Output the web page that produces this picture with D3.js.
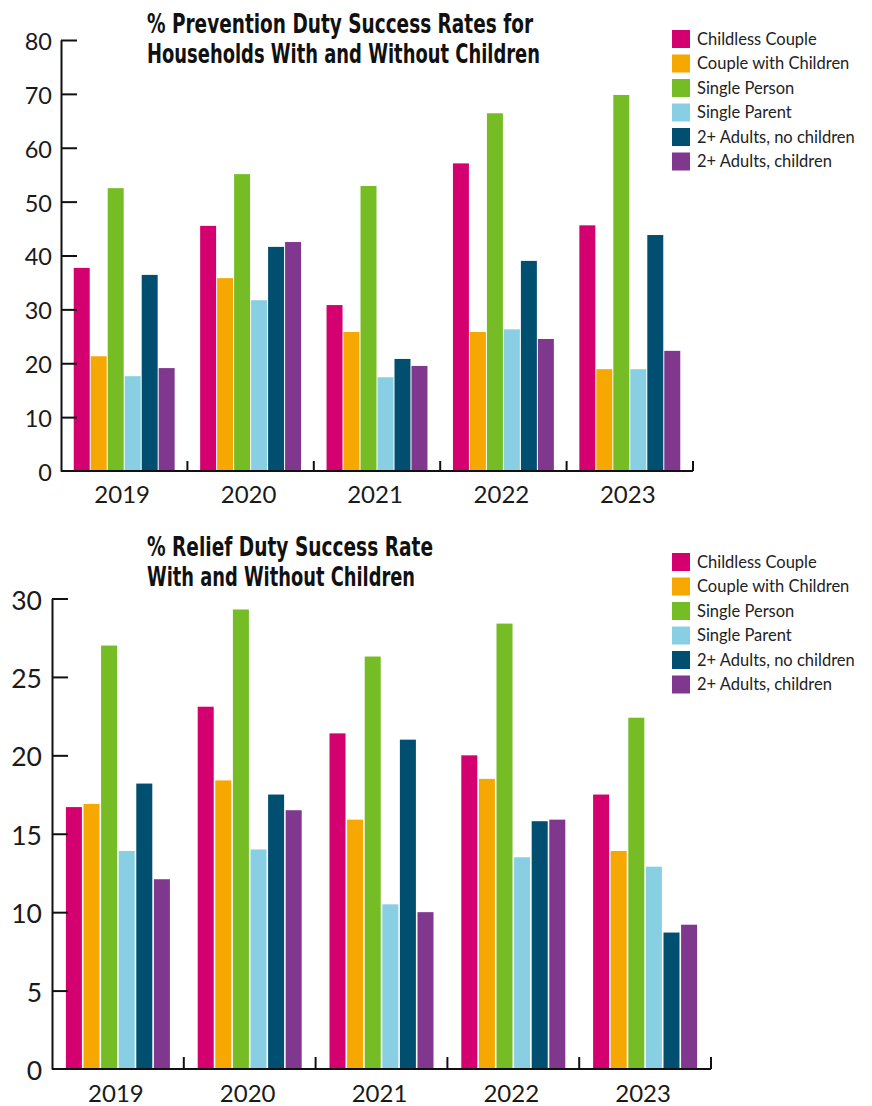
<!DOCTYPE html>
<html>
<head>
<meta charset="utf-8">
<script src="https://cdn.jsdelivr.net/npm/d3@7"></script>
<style>
  html, body { margin: 0; padding: 0; background: #fff; }
  svg { display: block; }
</style>
</head>
<body>
<svg id="chart" width="872" height="1106"></svg>
<script>
// ---------- DATA ----------
const years = ["2019", "2020", "2021", "2022", "2023"];
const seriesNames = ["Childless Couple", "Couple with Children", "Single Person", "Single Parent", "2+ Adults, no children", "2+ Adults, children"];
const seriesColors = ["#D4006F", "#F7A800", "#76BC25", "#89CFE3", "#004F70", "#7F388D"];

// Prevention duty success rates (%)
const preventionChildlessCouple   = [37.7, 45.5, 30.8, 57.1, 45.6];
const preventionCoupleWithChildren = [21.3, 35.8, 25.8, 25.8, 18.9];
const preventionSinglePerson      = [52.5, 55.1, 52.9, 66.4, 69.8];
const preventionSingleParent      = [17.6, 31.7, 17.4, 26.3, 18.9];
const preventionAdultsNoChildren  = [36.4, 41.6, 20.8, 39.0, 43.8];
const preventionAdultsChildren    = [19.1, 42.5, 19.5, 24.5, 22.3];

// Relief duty success rates (%)
const reliefChildlessCouple   = [16.7, 23.1, 21.4, 20.0, 17.5];
const reliefCoupleWithChildren = [16.9, 18.4, 15.9, 18.5, 13.9];
const reliefSinglePerson      = [27.0, 29.3, 26.3, 28.4, 22.4];
const reliefSingleParent      = [13.9, 14.0, 10.5, 13.5, 12.9];
const reliefAdultsNoChildren  = [18.2, 17.5, 21.0, 15.8, 8.7];
const reliefAdultsChildren    = [12.1, 16.5, 10.0, 15.9, 9.2];

const preventionTicks = [0, 10, 20, 30, 40, 50, 60, 70, 80];
const reliefTicks = [0, 5, 10, 15, 20, 25, 30];

const preventionTitle = ["% Prevention Duty Success Rates for", "Households With and Without Children"];
const reliefTitle = ["% Relief Duty Success Rate", "With and Without Children"];

// ---------- DRAW ----------
const svg = d3.select("#chart");
const titleFont = "'Liberation Sans Narrow', 'DejaVu Sans Condensed', 'Roboto Condensed', 'Liberation Sans', Arial, sans-serif";
const bodyFont = "Lato, 'Noto Sans', 'Open Sans', sans-serif";

function drawChart(cfg) {
  const g = svg.append("g");
  const seriesValues = cfg.series;

  const x0 = d3.scaleBand().domain(years).range([cfg.left, cfg.right]).padding(0);
  const x1 = d3.scaleBand().domain(seriesNames).range([0, x0.bandwidth()])
    .paddingInner(cfg.pInner).paddingOuter(cfg.pOuter);
  const y = d3.scaleLinear().domain(cfg.domain).range([cfg.bottom, cfg.top]);

  // bars
  years.forEach((yr, i) => {
    const grp = g.append("g").attr("transform", `translate(${x0(yr)},0)`);
    grp.selectAll("rect")
      .data(seriesNames.map((s, k) => ({ s, k, v: seriesValues[k][i] })))
      .join("rect")
      .attr("x", d => x1(d.s))
      .attr("width", x1.bandwidth())
      .attr("y", d => y(d.v))
      .attr("height", d => y(0) - y(d.v))
      .attr("fill", d => seriesColors[d.k]);
  });

  // y axis
  const yAxis = d3.axisLeft(y).tickValues(cfg.ticks).tickSizeInner(-16).tickSizeOuter(0).tickPadding(cfg.tickPad);
  const ya = g.append("g").attr("transform", `translate(${cfg.left},0)`).call(yAxis);
  ya.select(".domain").attr("stroke", "#111").attr("stroke-width", 2);
  ya.selectAll(".tick line").attr("stroke", "#111").attr("stroke-width", 2);
  ya.selectAll(".tick text")
    .attr("font-family", bodyFont).attr("font-size", cfg.yFont).attr("fill", "#1a1a1a")
    .attr("dy", "0.4em");
  ya.selectAll(".tick").filter(d => d === 0).select("line").remove();

  // x axis line
  g.append("line")
    .attr("x1", cfg.left).attr("x2", cfg.right)
    .attr("y1", y(0)).attr("y2", y(0))
    .attr("stroke", "#111").attr("stroke-width", 2);
  // boundary ticks (upward)
  const bounds = years.slice(1).map(d => x0(d)).concat([cfg.right]);
  g.selectAll("line.bt").data(bounds).join("line")
    .attr("class", "bt")
    .attr("x1", d => d).attr("x2", d => d)
    .attr("y1", y(0)).attr("y2", y(0) - cfg.xTick)
    .attr("stroke", "#111").attr("stroke-width", 2);
  // x labels
  g.selectAll("text.xl").data(years).join("text")
    .attr("class", "xl")
    .attr("x", d => x0(d) + x0.bandwidth() / 2 - 2)
    .attr("y", cfg.xLabelY)
    .attr("text-anchor", "middle")
    .attr("font-family", bodyFont).attr("font-size", 24).attr("fill", "#1a1a1a")
    .text(d => d);

  // title
  cfg.title.forEach((t, i) => {
    g.append("text")
      .attr("x", 147).attr("y", cfg.titleY[i])
      .attr("font-family", titleFont).attr("font-weight", "bold")
      .attr("font-size", 26).attr("fill", "#111")
      .attr("textLength", cfg.titleW[i]).attr("lengthAdjust", "spacingAndGlyphs")
      .text(t);
  });

  // legend
  const lg = g.append("g").attr("transform", `translate(672,${cfg.legendY})`);
  const items = lg.selectAll("g").data(seriesNames).join("g")
    .attr("transform", (d, i) => `translate(0,${i * 24.5})`);
  items.append("rect").attr("width", 18).attr("height", 18)
    .attr("fill", (d, i) => seriesColors[i]);
  items.append("text").attr("x", 25).attr("y", 9).attr("dy", "0.36em")
    .attr("font-family", bodyFont).attr("font-size", 16.5).attr("fill", "#222")
    .text(d => d);
}

drawChart({
  series: [preventionChildlessCouple, preventionCoupleWithChildren, preventionSinglePerson,
           preventionSingleParent, preventionAdultsNoChildren, preventionAdultsChildren],
  domain: [0, 80], ticks: preventionTicks,
  left: 61, right: 693, top: 40, bottom: 471,
  pInner: 0.06, pOuter: 0.75,
  yFont: 23.5, tickPad: 9, xTick: 10, xLabelY: 503,
  title: preventionTitle, titleY: [33, 63], titleW: [386, 393],
  legendY: 30
});

drawChart({
  series: [reliefChildlessCouple, reliefCoupleWithChildren, reliefSinglePerson,
           reliefSingleParent, reliefAdultsNoChildren, reliefAdultsChildren],
  domain: [0, 30], ticks: reliefTicks,
  left: 52, right: 711, top: 598.5, bottom: 1069,
  pInner: 0.09, pOuter: 0.79,
  yFont: 26.5, tickPad: 10, xTick: 12, xLabelY: 1102,
  title: reliefTitle, titleY: [556, 586], titleW: [286, 268],
  legendY: 553
});
</script>
</body>
</html>
